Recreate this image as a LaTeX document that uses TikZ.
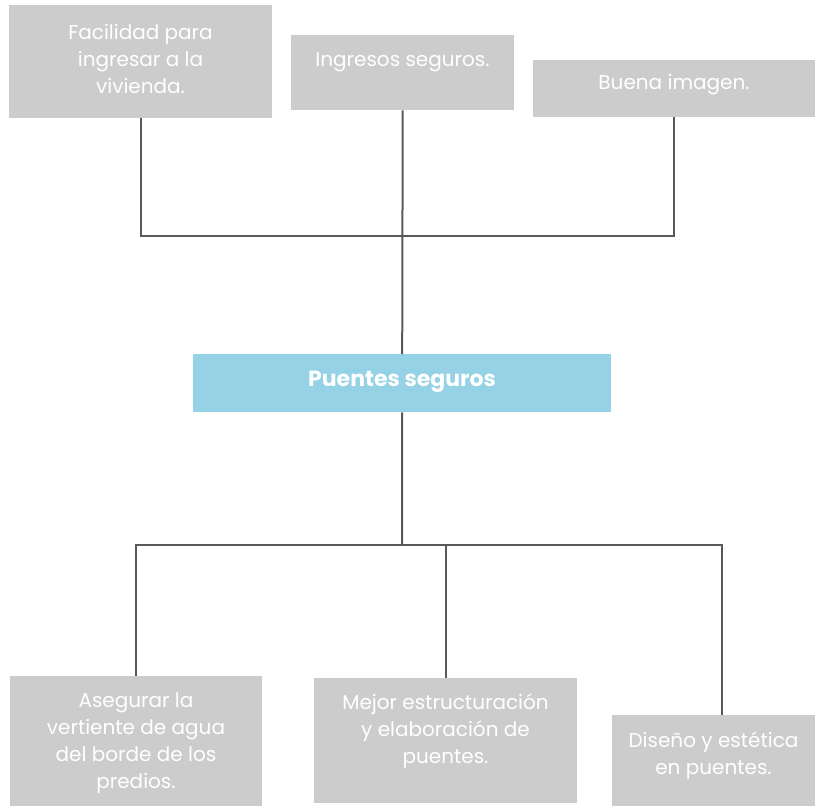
\documentclass[tikz,border=0pt]{standalone}
\usepackage{fontspec}
\setmainfont{Poppins}
\usetikzlibrary{positioning}
\definecolor{gris}{RGB}{204,204,204}
\definecolor{celeste}{RGB}{150,210,230}
\definecolor{linea}{RGB}{89,89,89}
\tikzset{
  caja/.style={fill=gris, inner sep=0pt, anchor=north west},
  texto/.style={text=white, align=center, inner sep=0pt, font=\fontsize{20}{27}\selectfont},
  conector/.style={draw=linea, line width=2pt}
}
\begin{document}
\begin{tikzpicture}[x=1pt, y=-1pt]
			\useasboundingbox (0,0) rectangle (825,806);
			% Cajas de arriba
			\node[caja, minimum width=263pt, minimum height=113pt] (cA) at (9,5) {};
			\node[caja, minimum width=223pt, minimum height=75pt] (cB) at (291,35) {};
			\node[caja, minimum width=282pt, minimum height=57pt] (cC) at (533,60) {};
			% Caja central
			\node[caja, fill=celeste, minimum width=418pt, minimum height=58pt] (cP) at (193,354) {};
			% Cajas de abajo
			\node[caja, minimum width=252pt, minimum height=130pt] (cD) at (10,676) {};
			\node[caja, minimum width=263pt, minimum height=125pt] (cE) at (314,678) {};
			\node[caja, minimum width=203pt, minimum height=91pt] (cF) at (612,715) {};
			% Textos
			\node[texto] (tA) at (140.5,59) {Facilidad para\\ingresar a la\\vivienda.};
			\node[texto] (tB) at (402.5,62) {Ingresos seguros.};
			\node[texto] (tC) at (674,85) {Buena imagen.};
			\node[texto, font=\fontsize{22}{27}\bfseries] (tP) at (402,382) {Puentes seguros};
			\node[texto] (tD) at (136,743) {Asegurar la\\vertiente de agua\\del borde de los\\predios.};
			\node[texto] (tE) at (445.5,731) {Mejor estructuración\\y elaboración de\\puentes.};
			\node[texto] (tF) at (713.5,756) {Diseño y estética\\en puentes.};
			% Conectores
			\coordinate (arriba) at (402,236);
			\coordinate (abajo) at (402,545);
			\draw[conector] (cA.south) |- (arriba) -| (cC.south);
			\draw[conector] (cB.south) -- (cP.north);
			\draw[conector] (cP.south) -- (abajo);
			\draw[conector] (cD.north) |- (abajo) -| ([xshift=8.5pt]cF.north);
			\draw[conector] (abajo -| cE.north) -- (cE.north);
		\end{tikzpicture}
\end{document}
